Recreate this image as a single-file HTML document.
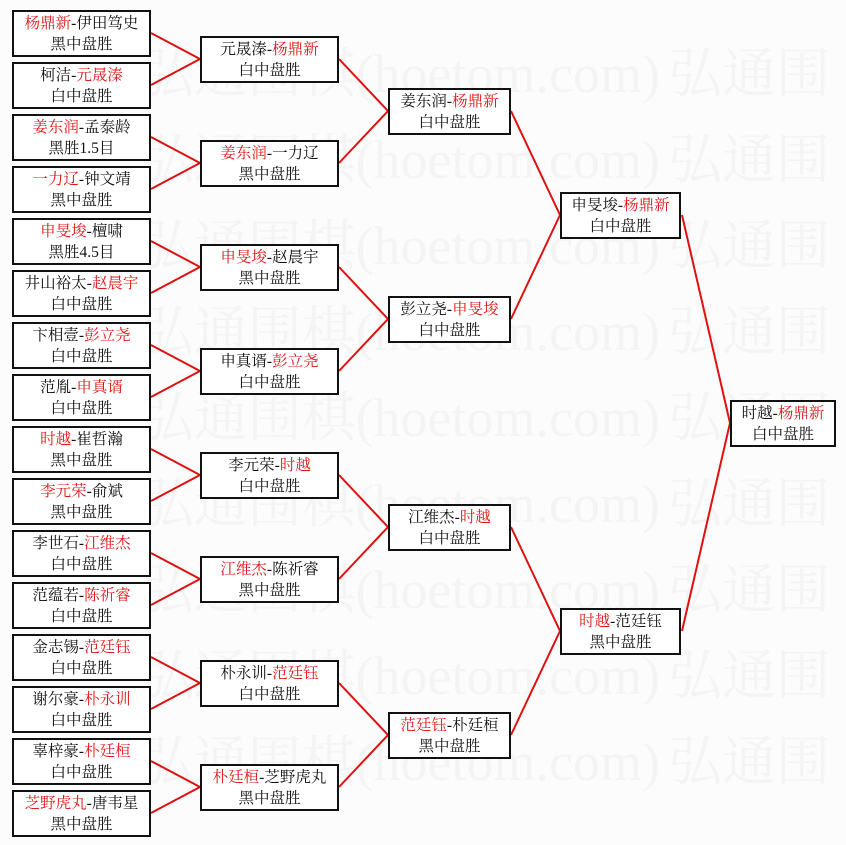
<!DOCTYPE html>
<html><head><meta charset="utf-8"><style>
html,body{margin:0;padding:0}
body{width:846px;height:845px;background:#fcfcfc;position:relative;overflow:hidden;font-family:"Liberation Serif","Noto Serif CJK SC",serif}
.b{position:absolute;height:42px;border:2px solid #111;background:#fff;box-sizing:content-box;text-align:center;font-size:15.5px;line-height:21px;padding-top:1px;color:#111;white-space:nowrap}
.c1,.c2{width:135px}
.c3{width:119px}
.c4{width:117px}
.c5{width:102px}
.r{color:#e01818}
svg{position:absolute;left:0;top:0}
</style></head><body>
<svg width="846" height="845">
<g fill="#f4f4f4" font-family="Liberation Serif,Noto Serif CJK SC,serif" font-size="54">
<text x="660" y="92" text-anchor="end">弘通围棋(hoetom.com)</text><text x="668" y="92">弘通围</text>
<text x="660" y="178" text-anchor="end">弘通围棋(hoetom.com)</text><text x="668" y="178">弘通围</text>
<text x="660" y="264" text-anchor="end">弘通围棋(hoetom.com)</text><text x="668" y="264">弘通围</text>
<text x="660" y="350" text-anchor="end">弘通围棋(hoetom.com)</text><text x="668" y="350">弘通围</text>
<text x="660" y="436" text-anchor="end">弘通围棋(hoetom.com)</text><text x="668" y="436">弘通围</text>
<text x="660" y="522" text-anchor="end">弘通围棋(hoetom.com)</text><text x="668" y="522">弘通围</text>
<text x="660" y="608" text-anchor="end">弘通围棋(hoetom.com)</text><text x="668" y="608">弘通围</text>
<text x="660" y="694" text-anchor="end">弘通围棋(hoetom.com)</text><text x="668" y="694">弘通围</text>
<text x="660" y="780" text-anchor="end">弘通围棋(hoetom.com)</text><text x="668" y="780">弘通围</text>
</g>
<g stroke="#e01010" stroke-width="2" fill="none">
<polyline points="151,33 200,59 151,85"/>
<polyline points="151,137 200,163 151,189"/>
<polyline points="151,241 200,267 151,293"/>
<polyline points="151,345 200,371 151,397"/>
<polyline points="151,449 200,475 151,501"/>
<polyline points="151,553 200,579 151,605"/>
<polyline points="151,657 200,683 151,709"/>
<polyline points="151,761 200,787 151,813"/>
<polyline points="339,59 388,111 339,163"/>
<polyline points="339,267 388,319 339,371"/>
<polyline points="339,475 388,527 339,579"/>
<polyline points="339,683 388,735 339,787"/>
<polyline points="511,111 560,215 511,319"/>
<polyline points="511,527 560,631 511,735"/>
<polyline points="682,215 730,423 682,631"/>
</g>
</svg>

<div class="b c1" style="left:12px;top:10px"><span class="r">杨鼎新</span>-伊田笃史<br>黑中盘胜</div>
<div class="b c1" style="left:12px;top:62px">柯洁-<span class="r">元晟溱</span><br>白中盘胜</div>
<div class="b c1" style="left:12px;top:114px"><span class="r">姜东润</span>-孟泰龄<br>黑胜1.5目</div>
<div class="b c1" style="left:12px;top:166px"><span class="r">一力辽</span>-钟文靖<br>黑中盘胜</div>
<div class="b c1" style="left:12px;top:218px"><span class="r">申旻埈</span>-檀啸<br>黑胜4.5目</div>
<div class="b c1" style="left:12px;top:270px">井山裕太-<span class="r">赵晨宇</span><br>白中盘胜</div>
<div class="b c1" style="left:12px;top:322px">卞相壹-<span class="r">彭立尧</span><br>白中盘胜</div>
<div class="b c1" style="left:12px;top:374px">范胤-<span class="r">申真谞</span><br>白中盘胜</div>
<div class="b c1" style="left:12px;top:426px"><span class="r">时越</span>-崔哲瀚<br>黑中盘胜</div>
<div class="b c1" style="left:12px;top:478px"><span class="r">李元荣</span>-俞斌<br>黑中盘胜</div>
<div class="b c1" style="left:12px;top:530px">李世石-<span class="r">江维杰</span><br>白中盘胜</div>
<div class="b c1" style="left:12px;top:582px">范蕴若-<span class="r">陈祈睿</span><br>白中盘胜</div>
<div class="b c1" style="left:12px;top:634px">金志锡-<span class="r">范廷钰</span><br>白中盘胜</div>
<div class="b c1" style="left:12px;top:686px">谢尔豪-<span class="r">朴永训</span><br>白中盘胜</div>
<div class="b c1" style="left:12px;top:738px">辜梓豪-<span class="r">朴廷桓</span><br>白中盘胜</div>
<div class="b c1" style="left:12px;top:790px"><span class="r">芝野虎丸</span>-唐韦星<br>黑中盘胜</div>

<div class="b c2" style="left:200px;top:36px">元晟溱-<span class="r">杨鼎新</span><br>白中盘胜</div>
<div class="b c2" style="left:200px;top:140px"><span class="r">姜东润</span>-一力辽<br>黑中盘胜</div>
<div class="b c2" style="left:200px;top:244px"><span class="r">申旻埈</span>-赵晨宇<br>黑中盘胜</div>
<div class="b c2" style="left:200px;top:348px">申真谞-<span class="r">彭立尧</span><br>白中盘胜</div>
<div class="b c2" style="left:200px;top:452px">李元荣-<span class="r">时越</span><br>白中盘胜</div>
<div class="b c2" style="left:200px;top:556px"><span class="r">江维杰</span>-陈祈睿<br>黑中盘胜</div>
<div class="b c2" style="left:200px;top:660px">朴永训-<span class="r">范廷钰</span><br>白中盘胜</div>
<div class="b c2" style="left:200px;top:764px"><span class="r">朴廷桓</span>-芝野虎丸<br>黑中盘胜</div>

<div class="b c3" style="left:388px;top:88px">姜东润-<span class="r">杨鼎新</span><br>白中盘胜</div>
<div class="b c3" style="left:388px;top:296px">彭立尧-<span class="r">申旻埈</span><br>白中盘胜</div>
<div class="b c3" style="left:388px;top:504px">江维杰-<span class="r">时越</span><br>白中盘胜</div>
<div class="b c3" style="left:388px;top:712px"><span class="r">范廷钰</span>-朴廷桓<br>黑中盘胜</div>

<div class="b c4" style="left:560px;top:192px">申旻埈-<span class="r">杨鼎新</span><br>白中盘胜</div>
<div class="b c4" style="left:560px;top:608px"><span class="r">时越</span>-范廷钰<br>黑中盘胜</div>

<div class="b c5" style="left:730px;top:400px">时越-<span class="r">杨鼎新</span><br>白中盘胜</div>
</body></html>
